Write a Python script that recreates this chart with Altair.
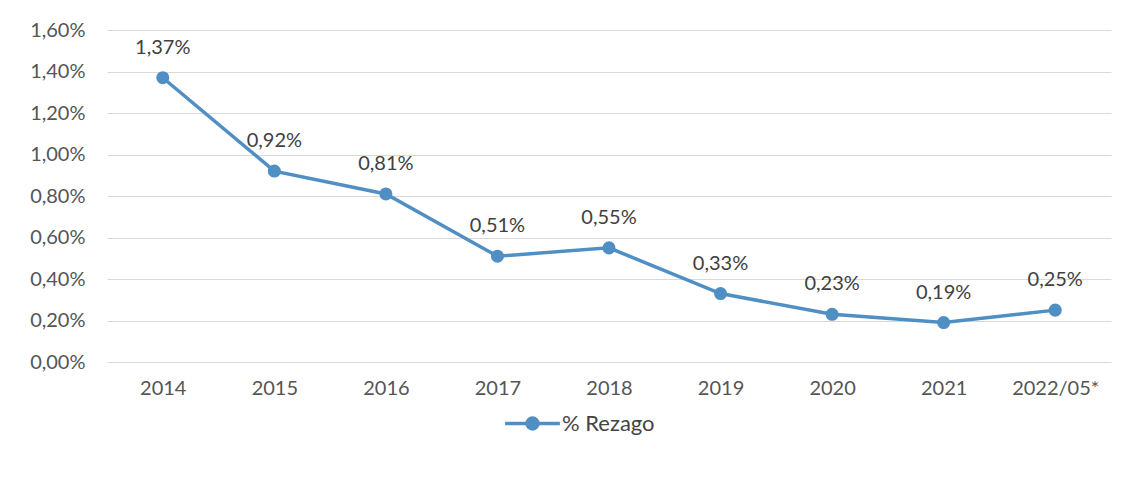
import altair as alt
import pandas as pd

years = ["2014", "2015", "2016", "2017", "2018", "2019", "2020", "2021", "2022/05*"]
rezago = [0.0137, 0.0092, 0.0081, 0.0051, 0.0055, 0.0033, 0.0023, 0.0019, 0.0025]
series = ["% Rezago"] * len(years)

df = pd.DataFrame({"year": years, "value": rezago, "series": series})

BLUE = "#4f8fc4"
FONT = "Lato"
FS = 20

x = alt.X("year:N", sort=years, title=None,
          scale=alt.Scale(type="point", padding=0.5),
          axis=alt.Axis(labelAngle=0, labelFontSize=FS, labelColor="#555555",
                        labelPadding=16, ticks=False, domain=False, grid=False,
                        labelFont=FONT))
y = alt.Y("value:Q", title=None,
          scale=alt.Scale(domain=[0, 0.016], nice=False),
          axis=alt.Axis(values=[0, 0.002, 0.004, 0.006, 0.008, 0.010, 0.012, 0.014, 0.016],
                        labelExpr="replace(format(datum.value, '.2%'), '.', ',')",
                        labelFontSize=FS, labelColor="#555555", labelPadding=22,
                        ticks=False, domain=False, gridColor="#d9d9d9", gridWidth=1,
                        labelFont=FONT))

base = alt.Chart(df)

line = base.mark_line(strokeWidth=3.5, point=alt.OverlayMarkDef(size=170, fill=BLUE, filled=True)).encode(
    x=x, y=y,
    color=alt.Color("series:N", scale=alt.Scale(range=[BLUE]),
                    legend=alt.Legend(title=None, orient="none", legendX=396, legendY=364,
                                      labelFontSize=22, labelColor="#444444", labelFont=FONT,
                                      symbolType="M-1,0H1M0.2,0A0.2,0.2,0,1,1,-0.2,0A0.2,0.2,0,1,1,0.2,0",
                                      symbolSize=3000, symbolStrokeWidth=3.5,
                                      symbolFillColor=BLUE, labelOffset=0))
)

labels = base.mark_text(dy=-30, fontSize=FS, color="#404040", font=FONT).transform_calculate(
    lab="replace(format(datum.value, '.2%'), '.', ',')"
).encode(x=x, y=y, text="lab:N")

chart = alt.layer(line, labels).properties(
    width=1004, height=332,
    autosize=alt.AutoSizeParams(type="none"),
    padding={"left": 99, "top": 22, "right": 23, "bottom": 118},
    background="white",
).configure_view(stroke=None)

chart.save("out.html", embed_options={"renderer": "svg", "actions": False})
